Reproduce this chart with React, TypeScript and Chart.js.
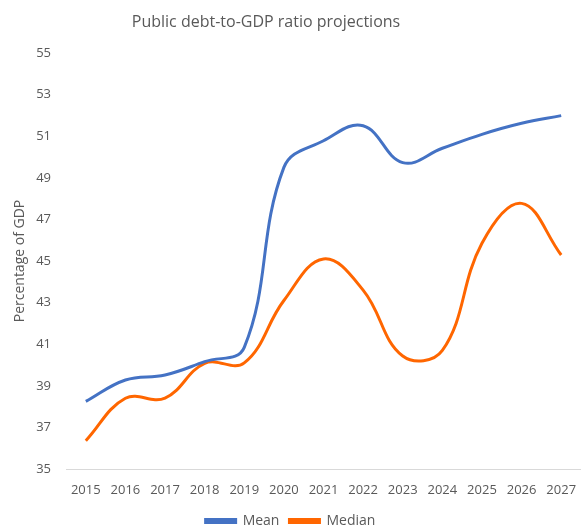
import React, { useEffect, useRef } from "react";
import { Chart, registerables } from "chart.js";

Chart.register(...registerables);

const years = ["2015", "2016", "2017", "2018", "2019", "2020", "2021", "2022", "2023", "2024", "2025", "2026", "2027"];
const meanValues = [38.25, 39.28, 39.52, 40.16, 40.85, 49.5, 50.78, 51.5, 49.73, 50.42, 51.09, 51.62, 51.99];
const medianValues = [36.36, 38.4, 38.41, 40.08, 40.1, 43.1, 45.1, 43.6, 40.43, 40.7, 45.85, 47.77, 45.29];
const titleText = "Public debt-to-GDP ratio projections";
const yTitle = "Percentage of GDP";

const FONT = "'Open Sans', 'Noto Sans', sans-serif";
const GRAY = "#595959";

const titlePlugin = {
  id: "offsetTitle",
  afterDraw(chart: any) {
    const ctx = chart.ctx;
    ctx.save();
    ctx.font = `16px ${FONT}`;
    ctx.fillStyle = GRAY;
    ctx.textAlign = "center";
    ctx.textBaseline = "middle";
    ctx.fillText(titleText, 266, 22);
    ctx.restore();
  },
};

export default function App() {
  const ref = useRef<HTMLCanvasElement | null>(null);
  useEffect(() => {
    if (!ref.current) return;
    const chart = new Chart(ref.current, {
      type: "line",
      data: {
        labels: years,
        datasets: [
          {
            label: "Mean",
            data: meanValues,
            borderColor: "#4472C4",
            backgroundColor: "#4472C4",
            borderWidth: 3,
            pointRadius: 0,
            tension: 0.4,
            fill: false,
          },
          {
            label: "Median",
            data: medianValues,
            borderColor: "#FF6600",
            backgroundColor: "#FF6600",
            borderWidth: 3,
            pointRadius: 0,
            tension: 0.4,
            fill: false,
          },
        ],
      },
      plugins: [titlePlugin],
      options: {
        animation: false,
        responsive: false,
        maintainAspectRatio: false,
        layout: { padding: { top: 53, left: 0, right: 0, bottom: 0 } },
        plugins: {
          title: { display: false },
          legend: {
            position: "bottom",
            labels: {
              boxWidth: 30,
              boxHeight: 3,
              color: GRAY,
              font: { family: FONT, size: 14 },
              padding: 10,
            },
          },
          tooltip: { enabled: false },
        },
        scales: {
          x: {
            offset: true,
            grid: {
              display: true,
              drawOnChartArea: false,
              drawTicks: true,
              tickLength: 13,
              color: "rgba(0,0,0,0)",
              offset: true,
            },
            border: { display: true, color: "#D9D9D9", width: 1 },
            ticks: {
              color: GRAY,
              font: { family: FONT, size: 13 },
              padding: 0,
              maxRotation: 0,
              autoSkip: false,
            },
            afterFit: (scale: any) => {
              scale.height = 35;
            },
          },
          y: {
            min: 35,
            max: 55,
            grid: { display: false, drawTicks: false },
            border: { display: false },
            ticks: {
              stepSize: 2,
              color: GRAY,
              font: { family: FONT, size: 13 },
              padding: 15,
            },
            title: {
              display: true,
              text: yTitle,
              color: GRAY,
              font: { family: FONT, size: 14 },
              padding: { top: 12, bottom: 0 },
            },
            afterFit: (scale: any) => {
              scale.width = 66;
            },
          },
        },
      },
    });
    return () => chart.destroy();
  }, []);

  return (
    <div
      style={{
        position: "fixed",
        left: 0,
        top: 0,
        width: 581,
        height: 527,
        overflow: "hidden",
        background: "#fff",
      }}
    >
      <canvas ref={ref} width={581} height={538} style={{ display: "block", width: 581, height: 538 }} />
    </div>
  );
}
